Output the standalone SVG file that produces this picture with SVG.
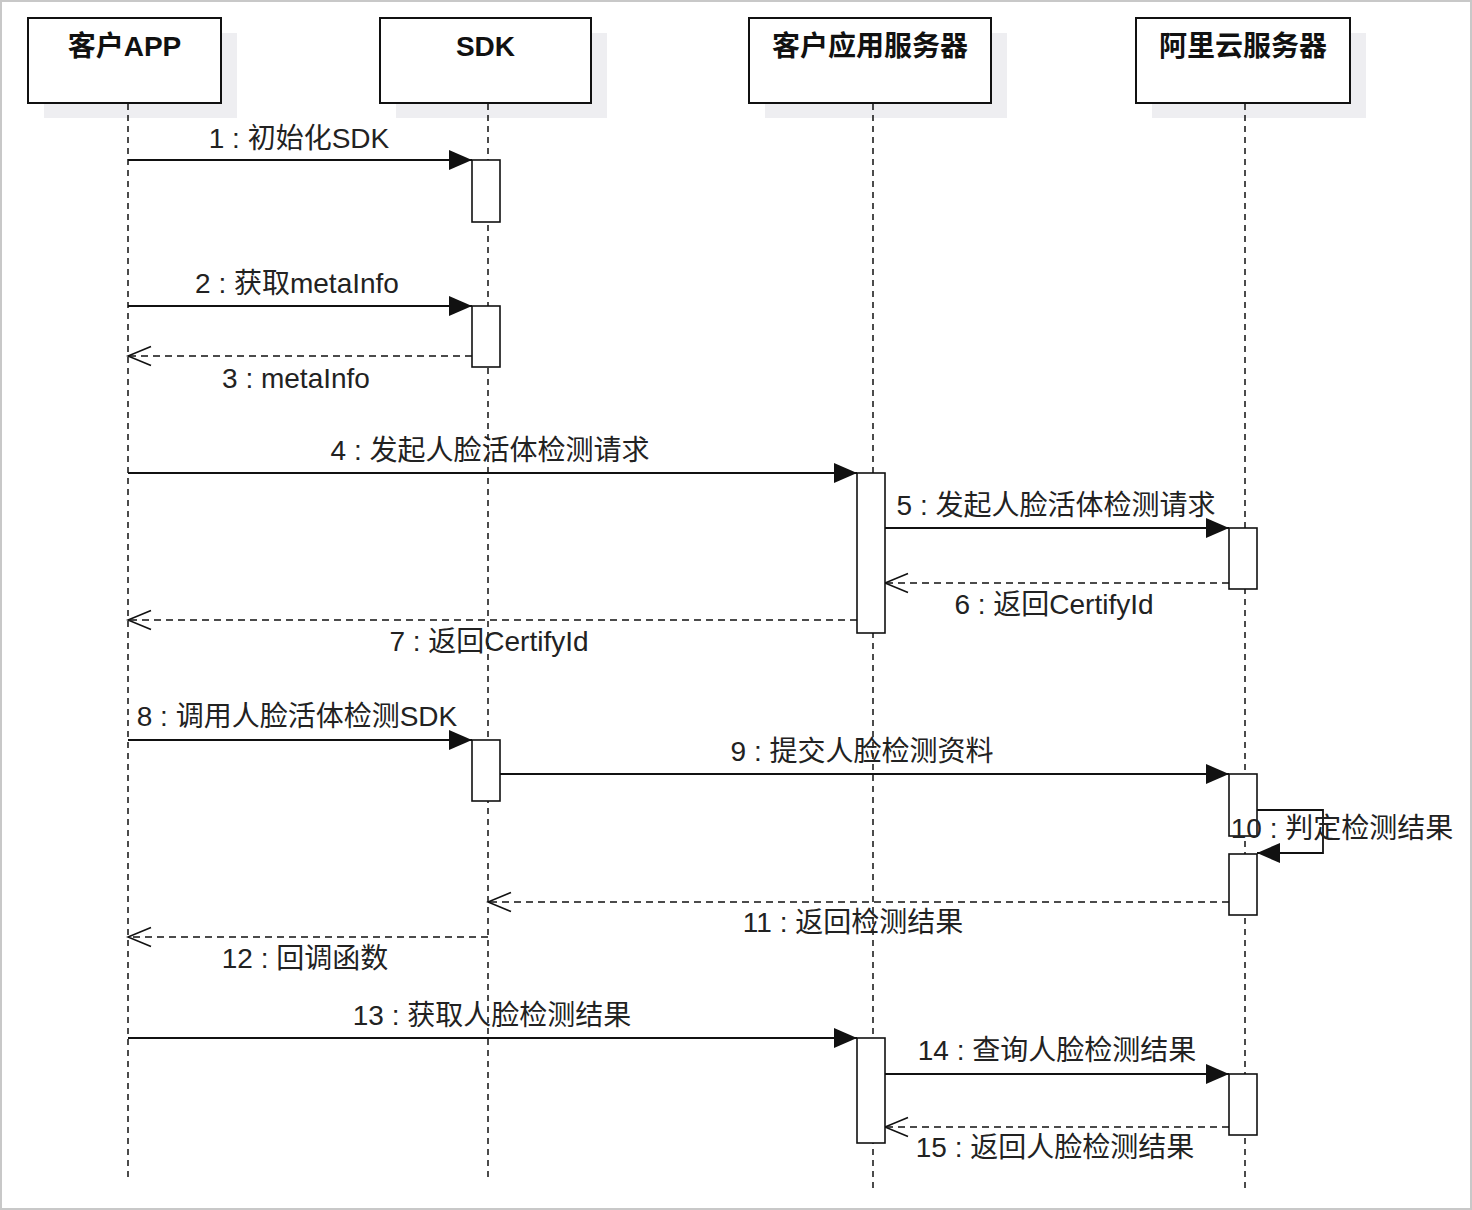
<svg xmlns="http://www.w3.org/2000/svg" width="1472" height="1210" viewBox="0 0 1472 1210">
<style>
.bg{fill:#ffffff;stroke:#c8c8c8;stroke-width:2}
.shadow{fill:#eeeef1;stroke:none}
.head{fill:#ffffff;stroke:#111;stroke-width:2}
.htxt{font-family:"Liberation Sans","Noto Sans CJK SC",sans-serif;font-size:28px;font-weight:bold;fill:#111;text-anchor:middle}
.life{stroke:#111;stroke-width:1.5;stroke-dasharray:6 5;fill:none}
.act{fill:#ffffff;stroke:#111;stroke-width:1.6}
.msg{stroke:#111;stroke-width:1.8;fill:none}
.ret{stroke:#111;stroke-width:1.6;fill:none;stroke-dasharray:7 5}
.lbl{font-family:"Liberation Sans","Noto Sans CJK SC",sans-serif;font-size:28px;fill:#222;text-anchor:middle}
</style>
<defs>
<marker id="fill" markerUnits="userSpaceOnUse" markerWidth="24" markerHeight="22" refX="23" refY="10" orient="auto">
<path d="M0,0 L23,10 L0,20 z" fill="#111"/>
</marker>
<marker id="open" markerUnits="userSpaceOnUse" markerWidth="26" markerHeight="24" refX="24" refY="11" orient="auto">
<path d="M1,1.5 L24,11 L1,20.5" fill="none" stroke="#111" stroke-width="1.6"/>
</marker>
</defs>
<rect class="bg" x="1" y="1" width="1470" height="1208"/>

<g id="node-app">
<rect class="shadow" x="44" y="33" width="193" height="85"/>
<rect class="head" x="28" y="18" width="193" height="85"/>
<text class="htxt" x="124.5" y="56">客户APP</text>
</g>
<g id="node-sdk">
<rect class="shadow" x="396" y="33" width="211" height="85"/>
<rect class="head" x="380" y="18" width="211" height="85"/>
<text class="htxt" x="485.5" y="56">SDK</text>
</g>
<g id="node-server">
<rect class="shadow" x="765" y="33" width="242" height="85"/>
<rect class="head" x="749" y="18" width="242" height="85"/>
<text class="htxt" x="870" y="56">客户应用服务器</text>
</g>
<g id="node-aliyun">
<rect class="shadow" x="1152" y="33" width="214" height="85"/>
<rect class="head" x="1136" y="18" width="214" height="85"/>
<text class="htxt" x="1243" y="56">阿里云服务器</text>
</g>

<g id="lifelines">
<line class="life" x1="128" y1="104" x2="128" y2="1180"/>
<line class="life" x1="488" y1="104" x2="488" y2="1180"/>
<line class="life" x1="873" y1="104" x2="873" y2="1192"/>
<line class="life" x1="1245" y1="104" x2="1245" y2="1192"/>
</g>

<g id="connectors">
<line class="msg" x1="128" y1="160" x2="472" y2="160" marker-end="url(#fill)"/>
<line class="msg" x1="128" y1="306" x2="472" y2="306" marker-end="url(#fill)"/>
<line class="ret" x1="472" y1="356" x2="128" y2="356" marker-end="url(#open)"/>
<line class="msg" x1="128" y1="473" x2="857" y2="473" marker-end="url(#fill)"/>
<line class="msg" x1="885" y1="528" x2="1229" y2="528" marker-end="url(#fill)"/>
<line class="ret" x1="1229" y1="583" x2="885" y2="583" marker-end="url(#open)"/>
<line class="ret" x1="857" y1="620" x2="128" y2="620" marker-end="url(#open)"/>
<line class="msg" x1="128" y1="740" x2="472" y2="740" marker-end="url(#fill)"/>
<line class="msg" x1="500" y1="774" x2="1229" y2="774" marker-end="url(#fill)"/>
<path class="msg" d="M1257,810 L1323,810 L1323,853 L1257,853" marker-end="url(#fill)"/>
<line class="ret" x1="1229" y1="902" x2="488" y2="902" marker-end="url(#open)"/>
<line class="ret" x1="488" y1="937" x2="128" y2="937" marker-end="url(#open)"/>
<line class="msg" x1="128" y1="1038" x2="857" y2="1038" marker-end="url(#fill)"/>
<line class="msg" x1="885" y1="1074" x2="1229" y2="1074" marker-end="url(#fill)"/>
<line class="ret" x1="1229" y1="1127" x2="885" y2="1127" marker-end="url(#open)"/>
</g>

<g id="activations">
<rect class="act" x="472" y="160" width="28" height="62"/>
<rect class="act" x="472" y="306" width="28" height="61"/>
<rect class="act" x="857" y="473" width="28" height="160"/>
<rect class="act" x="1229" y="528" width="28" height="61"/>
<rect class="act" x="472" y="740" width="28" height="61"/>
<rect class="act" x="1229" y="774" width="28" height="62"/>
<rect class="act" x="1229" y="854" width="28" height="61"/>
<rect class="act" x="857" y="1038" width="28" height="105"/>
<rect class="act" x="1229" y="1074" width="28" height="61"/>
</g>

<g id="labels">
<text class="lbl" x="299" y="148">1 : 初始化SDK</text>
<text class="lbl" x="297" y="293">2 : 获取metaInfo</text>
<text class="lbl" x="296" y="388">3 : metaInfo</text>
<text class="lbl" x="490" y="460">4 : 发起人脸活体检测请求</text>
<text class="lbl" x="1056" y="515">5 : 发起人脸活体检测请求</text>
<text class="lbl" x="1054" y="614">6 : 返回CertifyId</text>
<text class="lbl" x="489" y="651">7 : 返回CertifyId</text>
<text class="lbl" x="297" y="726">8 : 调用人脸活体检测SDK</text>
<text class="lbl" x="862" y="761">9 : 提交人脸检测资料</text>
<text class="lbl" x="1342" y="838">10 : 判定检测结果</text>
<text class="lbl" x="853" y="932">11 : 返回检测结果</text>
<text class="lbl" x="305" y="968">12 : 回调函数</text>
<text class="lbl" x="492" y="1025">13 : 获取人脸检测结果</text>
<text class="lbl" x="1057" y="1060">14 : 查询人脸检测结果</text>
<text class="lbl" x="1055" y="1157">15 : 返回人脸检测结果</text>
</g>
</svg>
